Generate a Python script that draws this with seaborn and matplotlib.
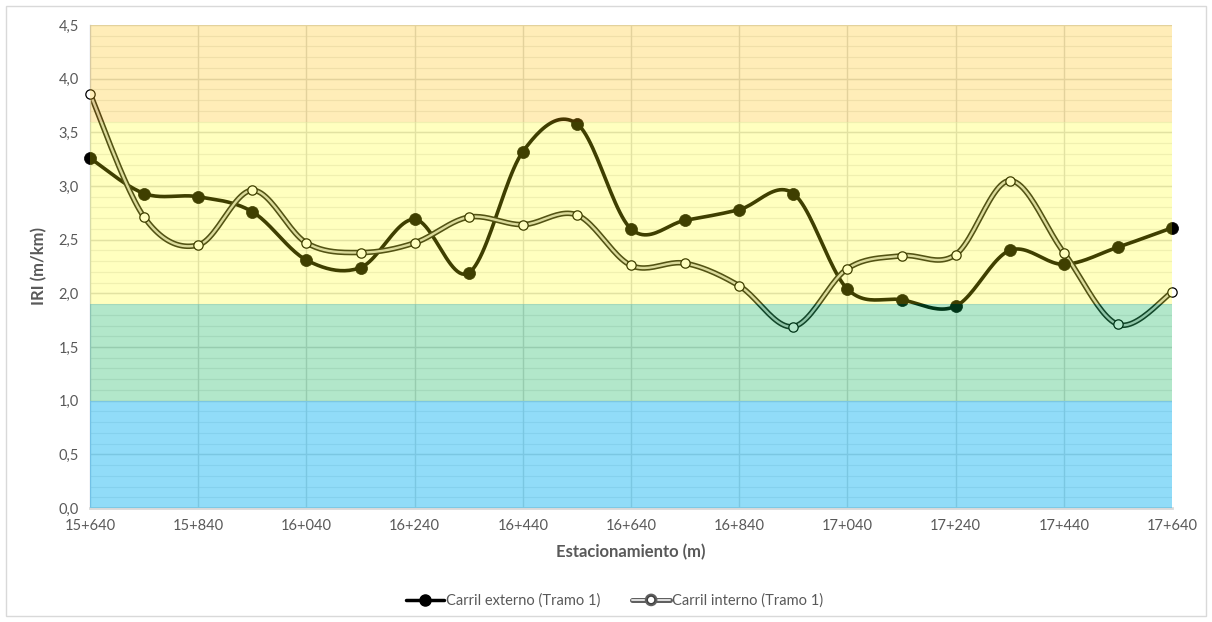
import numpy as np
import pandas as pd
import matplotlib
matplotlib.use("Agg")
import matplotlib.pyplot as plt
import matplotlib.patheffects as pe
from matplotlib.lines import Line2D
from matplotlib.patches import Rectangle
import seaborn as sns

# Stations (m) and IRI measurements per lane
stations = [15640, 15740, 15840, 15940, 16040, 16140, 16240, 16340, 16440, 16540, 16640,
            16740, 16840, 16940, 17040, 17140, 17240, 17340, 17440, 17540, 17640]
iri_externo = [3.26, 2.93, 2.90, 2.76, 2.31, 2.24, 2.69, 2.19, 3.32, 3.58, 2.60,
               2.68, 2.78, 2.93, 2.04, 1.94, 1.88, 2.40, 2.27, 2.43, 2.61]
iri_interno = [3.86, 2.71, 2.45, 2.96, 2.47, 2.38, 2.47, 2.71, 2.64, 2.73, 2.26,
               2.28, 2.07, 1.69, 2.23, 2.35, 2.36, 3.05, 2.38, 1.71, 2.01]

label_externo = "Carril externo (Tramo 1)"
label_interno = "Carril interno (Tramo 1)"

# Condition bands (IRI limits) and their tints
band_limits = [0.0, 1.0, 1.9, 3.6, 4.5]
band_colors = ["#00B0F0", "#00B050", "#FFFF00", "#FFC000"]
band_alpha = [0.43, 0.30, 0.25, 0.28]

x_ticks = list(range(15640, 17641, 200))
y_ticks = [0.0, 0.5, 1.0, 1.5, 2.0, 2.5, 3.0, 3.5, 4.0, 4.5]


def smooth_curve(x, y, n=24):
    """Cubic Bezier smoothing through every point (Catmull-Rom tangents)."""
    pts = np.column_stack([x, y]).astype(float)
    P = np.vstack([pts[0], pts, pts[-1]])
    t = np.linspace(0, 1, n, endpoint=False)[:, None]
    parts = []
    for i in range(1, len(P) - 2):
        p0, p1, p2, p3 = P[i - 1], P[i], P[i + 1], P[i + 2]
        c1 = p1 + (p2 - p0) / 6.0
        c2 = p2 - (p3 - p1) / 6.0
        parts.append((1 - t) ** 3 * p1 + 3 * (1 - t) ** 2 * t * c1
                     + 3 * (1 - t) * t ** 2 * c2 + t ** 3 * p2)
    parts.append(pts[-1][None])
    out = np.vstack(parts)
    return pd.DataFrame({"x": out[:, 0], "y": out[:, 1]})


sns.set_theme(style="white")
plt.rcParams["font.family"] = ["Lato", "DejaVu Sans"]

fig = plt.figure(figsize=(12.12, 6.22), dpi=100)
fig.patch.set_facecolor("white")
fig.patches.append(Rectangle((0.005, 0.01), 0.99, 0.98, transform=fig.transFigure,
                             fill=False, edgecolor="#D9D9D9", linewidth=1.0))
ax = fig.add_axes([0.0743, 0.1833, 0.8927, 0.7765])

text_color = "#595959"
grid_color = "#D9D9D9"

# Grid
ax.set_axisbelow(True)
for v in np.arange(0.1, 4.5, 0.1):
    ax.axhline(v, color="#EBEBEB", linewidth=0.8, zorder=0.4)
for v in y_ticks[1:]:
    ax.axhline(v, color=grid_color, linewidth=1.0, zorder=0.5)
for v in x_ticks[1:-1]:
    ax.axvline(v, color=grid_color, linewidth=1.0, zorder=0.5)

# Series
ext_curve = smooth_curve(stations, iri_externo)
int_curve = smooth_curve(stations, iri_interno)
df_ext = pd.DataFrame({"x": stations, "y": iri_externo})
df_int = pd.DataFrame({"x": stations, "y": iri_interno})

double_line = [pe.Stroke(linewidth=4.0, foreground="#1A1A1A"), pe.Normal()]

sns.lineplot(data=ext_curve, x="x", y="y", ax=ax, sort=False, estimator=None,
             color="black", linewidth=2.6, zorder=2)
sns.lineplot(data=int_curve, x="x", y="y", ax=ax, sort=False, estimator=None,
             color="#CFCFCF", linewidth=1.7, zorder=2.1, path_effects=double_line)
sns.scatterplot(data=df_ext, x="x", y="y", ax=ax, color="black", s=75,
                edgecolor="black", linewidth=0.5, zorder=3, clip_on=False)
sns.scatterplot(data=df_int, x="x", y="y", ax=ax, color="white", s=45,
                edgecolor="black", linewidth=0.9, zorder=3.1, clip_on=False)

# Translucent condition bands drawn over the series
for lo, hi, c, a in zip(band_limits[:-1], band_limits[1:], band_colors, band_alpha):
    ax.axhspan(lo, hi, facecolor=c, alpha=a, edgecolor="none", zorder=4)

ax.set_xlim(stations[0], stations[-1])
ax.set_ylim(0, 4.5)
ax.set_xticks(x_ticks)
ax.set_xticklabels([f"{v // 1000}+{v % 1000:03d}" for v in x_ticks])
ax.set_yticks(y_ticks)
ax.set_yticklabels([f"{v:.1f}".replace(".", ",") for v in y_ticks])
ax.tick_params(axis="both", labelsize=10.5, colors=text_color, length=0, pad=8)

for s in ["top", "right"]:
    ax.spines[s].set_visible(False)
ax.spines["left"].set_color("#C9CFE0")
ax.spines["left"].set_linewidth(1.0)
ax.spines["bottom"].set_color(grid_color)
ax.spines["bottom"].set_linewidth(2.0)

ax.set_xlabel("Estacionamiento (m)", fontsize=12, fontweight="bold",
              color=text_color, labelpad=8)
ax.set_ylabel("IRI (m/km)", fontsize=12, fontweight="bold",
              color=text_color, labelpad=8)

handles = [
    Line2D([0], [0], color="black", linewidth=2.5, marker="o", markersize=8,
           markerfacecolor="black", markeredgecolor="black"),
    Line2D([0], [0], color="#E0E0E0", linewidth=1.4, marker="o", markersize=5.5,
           markerfacecolor="white", markeredgecolor="#404040",
           path_effects=[pe.Stroke(linewidth=3.6, foreground="#606060"), pe.Normal()]),
]
fig.legend(handles, [label_externo, label_interno], loc="center",
           bbox_to_anchor=(0.507, 0.034), ncol=2, frameon=False, fontsize=10.5,
           labelcolor=text_color, handlelength=2.6, handletextpad=0.1,
           columnspacing=2.2)

fig.savefig("out.png", dpi=100, facecolor="white")
